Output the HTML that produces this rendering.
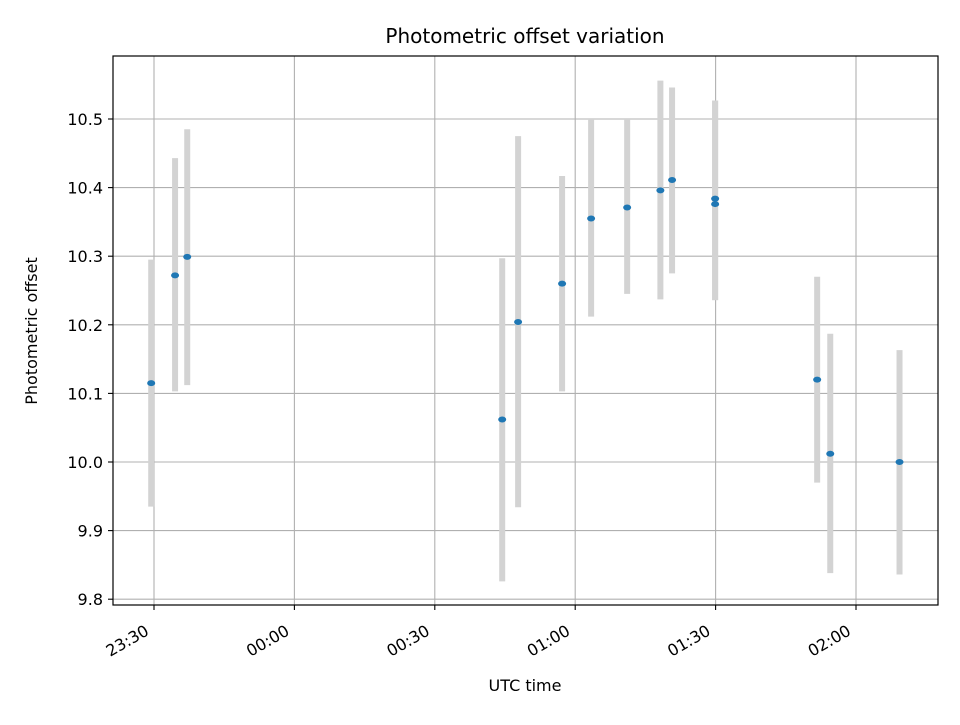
<!DOCTYPE html>
<html><head><meta charset="utf-8"><style>
body{margin:0;background:#fff;font-family:"Liberation Sans","DejaVu Sans",sans-serif}
</style></head><body>
<svg id="chart" width="960" height="720" xmlns="http://www.w3.org/2000/svg" font-family="DejaVu Sans, Liberation Sans, sans-serif">
<rect width="960" height="720" fill="#fff"/>
<g id="grid"></g>
<g id="bars"></g>
<g id="pts"></g>
<rect x="113" y="56" width="825" height="549" fill="none" stroke="#000" stroke-width="1.2"/>
<g id="ticks" font-size="16"></g>
<text x="525" y="43" text-anchor="middle" font-size="20">Photometric offset variation</text>
<text x="525" y="691" text-anchor="middle" font-size="16">UTC time</text>
<text transform="translate(37,331) rotate(-90)" text-anchor="middle" font-size="16">Photometric offset</text>
</svg>
<script>
// minutes after 23:30
const times = [-0.6, 4.5, 7.1, 74.4, 77.8, 87.2, 93.4, 101.1, 108.2, 110.7, 119.9, 119.9, 141.7, 144.5, 159.3];
const values = [10.115, 10.272, 10.299, 10.062, 10.204, 10.260, 10.355, 10.371, 10.396, 10.411, 10.376, 10.384, 10.120, 10.012, 10.000];
const lows = [9.935, 10.103, 10.112, 9.826, 9.934, 10.103, 10.212, 10.245, 10.237, 10.275, 10.236, 10.236, 9.970, 9.838, 9.836];
const highs = [10.295, 10.443, 10.485, 10.297, 10.475, 10.417, 10.500, 10.500, 10.556, 10.546, 10.527, 10.527, 10.270, 10.187, 10.163];
const xTicks = [0, 30, 60, 90, 120, 150];
const xTickLabels = ["23:30", "00:00", "00:30", "01:00", "01:30", "02:00"];
const yTicks = [9.8, 9.9, 10.0, 10.1, 10.2, 10.3, 10.4, 10.5];

const NS = "http://www.w3.org/2000/svg";
const xs = m => 154 + m * (856 - 154) / 150;
const ys = v => 462 - (v - 10.0) * (462 - 119) / 0.5;
function mk(tag, attrs, parent) {
  const e = document.createElementNS(NS, tag);
  for (const k in attrs) e.setAttribute(k, attrs[k]);
  parent.appendChild(e);
  return e;
}
const grid = document.getElementById('grid'), ticks = document.getElementById('ticks');
const bars = document.getElementById('bars'), pts = document.getElementById('pts');
xTicks.forEach((t, i) => {
  const x = xs(t);
  const g = mk('line', {x1: x, x2: x, y1: 56, y2: 605, stroke: '#b0b0b0', 'stroke-width': 1.1}, grid);
  
  
  const tk = mk('line', {x1: x, x2: x, y1: 605, y2: 610, stroke: '#000', 'stroke-width': 1.1}, ticks);
  
  
  const ax = x - 4, ay = 634;
  const tx = mk('text', {x: ax, y: ay, 'text-anchor': 'end', transform: `rotate(-30 ${ax} ${ay})`}, ticks);
  tx.textContent = xTickLabels[i];
  
  
});
yTicks.forEach(v => {
  const y = ys(v);
  const g = mk('line', {x1: 113, x2: 938, y1: y, y2: y, stroke: '#b0b0b0', 'stroke-width': 1.1}, grid);
  
  
  const tk = mk('line', {x1: 108, x2: 113, y1: y, y2: y, stroke: '#000', 'stroke-width': 1.1}, ticks);
  
  
  const tx = mk('text', {x: 103, y: y + 6, 'text-anchor': 'end'}, ticks);
  tx.textContent = v.toFixed(1);
  
  
});
times.forEach((t, i) => {
  const x = xs(t);
  const b = mk('line', {x1: x, x2: x, y1: ys(lows[i]), y2: ys(highs[i]), stroke: '#d3d3d3', 'stroke-width': 6}, bars);
  
  
  const p = mk('ellipse', {cx: x, cy: ys(values[i]), rx: 4, ry: 3, fill: '#1f77b4'}, pts);
  
  
});
</script>
</body></html>
